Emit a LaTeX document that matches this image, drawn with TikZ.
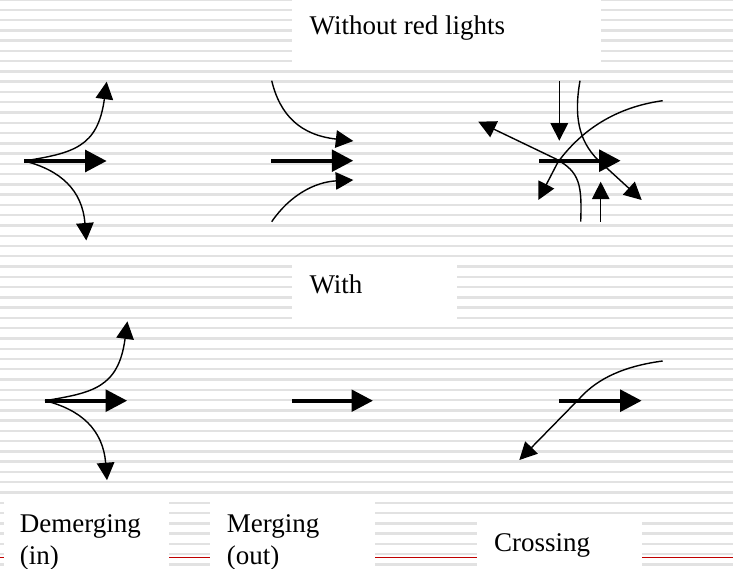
\documentclass[tikz,border=0pt]{standalone}
\usepackage{fontspec}
\setmainfont{Liberation Serif}
\usetikzlibrary{arrows.meta}
\definecolor{stripegray}{RGB}{226,226,226}
\definecolor{linered}{RGB}{192,0,0}
\tikzset{
  thinarr/.style={line width=1.4pt, -{Triangle[length=17.5pt,width=17.5pt]}},
  thickarr/.style={line width=4pt, -{Triangle[length=21.5pt,width=21.5pt]}},
  whitebox/.style={fill=white, draw=none},
  lbl/.style={font=\fontsize{27}{31}\selectfont, inner sep=0pt, anchor=base west},
}
\begin{document}
\begin{tikzpicture}[x=1pt,y=-1pt]
\useasboundingbox (0,0) rectangle (733,569);
\fill[white] (0,0) rectangle (733,569);
\foreach \k in {-1,...,55} {
  \fill[stripegray] (0,{8.6+\k*10.27}) rectangle (733,{11+\k*10.27});
}
% red rule
\draw[linered, line width=1pt] (0,557.3) -- (733,557.3);
% white label boxes
\fill[whitebox] (291.7,0) rectangle (600.7,63);
\fill[whitebox] (291.7,257) rectangle (456.7,325.5);
\fill[whitebox] (3.7,500) rectangle (169,569);
\fill[whitebox] (210,500) rectangle (375,569);
\fill[whitebox] (477,521) rectangle (642,569);
% labels
\node[lbl] (title) at (309.5,35) {Without red lights};
\node[lbl] (with) at (309.3,294) {With};
\node[lbl] (dem1) at (19.6,532.7) {Demerging};
\node[lbl] (dem2) at (19.6,564) {(in)};
\node[lbl] (mer1) at (226.7,532.7) {Merging};
\node[lbl] (mer2) at (226.7,564) {(out)};
\node[lbl] (cro) at (494,551.5) {Crossing};

% ---- top left: demerging without lights
\begin{scope}[shift={(24.3,161)}]
  \draw[thinarr] (0,0) .. controls (48,-8) and (73.5,-13) .. (82.4,-79.3);
  \draw[thinarr] (0,0) .. controls (36,9) and (58,29) .. (62,79.5);
  \draw[thickarr] (0,0) -- (82.4,0);
\end{scope}
% ---- bottom left: demerging with lights
\begin{scope}[shift={(45,400.7)}]
  \draw[thinarr] (0,0) .. controls (48,-8) and (73.5,-13) .. (82.4,-79.3);
  \draw[thinarr] (0,0) .. controls (36,9) and (58,29) .. (62,79.5);
  \draw[thickarr] (0,0) -- (82.2,0);
\end{scope}

% ---- top middle: merging without lights
\begin{scope}[shift={(271,160.7)}]
  \draw[thinarr] (0.7,-80) .. controls (9,-45.7) and (29,-25.7) .. (82.3,-19.7);
  \draw[thinarr] (0.7,61) .. controls (19,34.3) and (44,21.3) .. (82.3,19.3);
  \draw[thickarr] (0,0) -- (82.3,0);
\end{scope}
% ---- bottom middle: merging with lights
\draw[thickarr] (292,400.7) -- (373,400.7);

% ---- top right: crossing without lights
\draw[thinarr] (662.7,100.7) .. controls (610,108) and (578,135) .. (558,162) -- (538.3,200);
\draw[thinarr] (559.3,80.7) -- (559.3,140.7);
\draw[thinarr] (600.7,221.7) -- (600.7,181.7);
\draw[thinarr] (580,80.7) .. controls (574,115) and (578,140) .. (598,160) -- (641.7,200);
\draw[thinarr] (580.7,221.7) .. controls (582,185) and (580,172) .. (556,159) -- (478.3,121.7);
\draw[thickarr] (539,160.7) -- (620.7,160.7);

% ---- bottom right: crossing with lights
\draw[thinarr] (662.7,361) .. controls (625,366) and (598,378) .. (580,398) -- (519.3,460);
\draw[thickarr] (559.3,400.7) -- (641.7,400.7);
\end{tikzpicture}
\end{document}
